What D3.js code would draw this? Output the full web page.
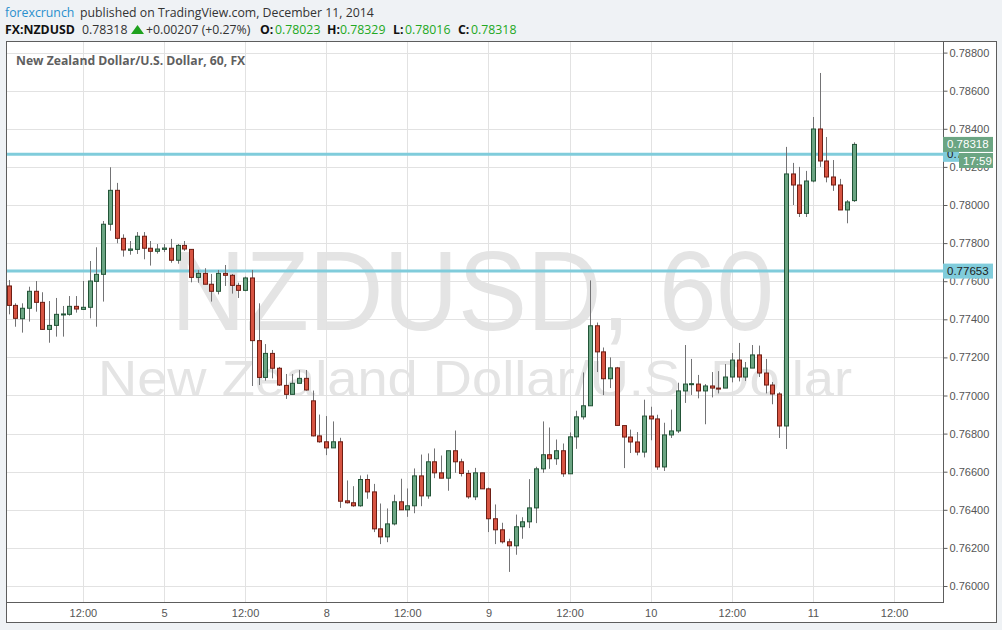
<!DOCTYPE html>
<html>
<head>
<meta charset="utf-8">
<script src="https://cdn.jsdelivr.net/npm/d3@7"></script>
<style>
  html, body { margin: 0; padding: 0; background: #eff2f5; }
  svg { display: block; }
</style>
</head>
<body>
<svg id="chart" width="1002" height="630"></svg>
<script>
// ---- data (hourly candles, NZDUSD 60) ----
const opens = [0.77575,0.77473,0.77403,0.77458,0.77547,0.77489,0.77347,0.77368,0.77426,0.77426,0.77468,0.77452,0.77463,0.77599,0.77636,0.77899,0.78077,0.77825,0.77762,0.77767,0.77836,0.77773,0.77757,0.77767,0.77773,0.77710,0.77788,0.77767,0.77620,0.77641,0.77584,0.77547,0.77641,0.77631,0.77578,0.77552,0.77617,0.77288,0.77095,0.77221,0.77143,0.77053,0.77006,0.77064,0.77090,0.76972,0.76788,0.76757,0.76725,0.76757,0.76447,0.76437,0.76421,0.76559,0.76494,0.76300,0.76258,0.76326,0.76442,0.76400,0.76421,0.76578,0.76473,0.76652,0.76594,0.76566,0.76710,0.76652,0.76591,0.76468,0.76594,0.76510,0.76353,0.76295,0.76232,0.76211,0.76311,0.76337,0.76410,0.76615,0.76689,0.76668,0.76710,0.76589,0.76783,0.76888,0.76946,0.77366,0.77229,0.77088,0.77145,0.76842,0.76782,0.76756,0.76703,0.76892,0.76877,0.76625,0.76793,0.76814,0.77024,0.77060,0.77060,0.77024,0.77050,0.77039,0.77039,0.77097,0.77186,0.77097,0.77144,0.77213,0.77118,0.77055,0.77008,0.76840,0.78163,0.78105,0.77956,0.78126,0.78399,0.78231,0.78147,0.78105,0.77974,0.78023];
const highs = [0.77606,0.77484,0.77484,0.77571,0.77601,0.77542,0.77496,0.77512,0.77470,0.77522,0.77522,0.77601,0.77706,0.77778,0.77916,0.78198,0.78116,0.77846,0.77811,0.77858,0.77858,0.77811,0.77795,0.77795,0.77822,0.77795,0.77811,0.77767,0.77659,0.77668,0.77638,0.77659,0.77685,0.77638,0.77592,0.77624,0.77659,0.77484,0.77270,0.77239,0.77150,0.77113,0.77113,0.77134,0.77134,0.77026,0.76900,0.76892,0.76864,0.76778,0.76554,0.76524,0.76580,0.76585,0.76536,0.76433,0.76407,0.76479,0.76563,0.76512,0.76617,0.76690,0.76696,0.76722,0.76685,0.76710,0.76816,0.76668,0.76608,0.76620,0.76594,0.76517,0.76428,0.76332,0.76248,0.76375,0.76361,0.76561,0.76626,0.76864,0.76832,0.76769,0.76748,0.76806,0.76920,0.77121,0.77604,0.77383,0.77252,0.77200,0.77150,0.76842,0.76821,0.76808,0.76978,0.76941,0.76899,0.76857,0.76926,0.77067,0.77265,0.77192,0.77108,0.77060,0.77123,0.77128,0.77165,0.77223,0.77276,0.77176,0.77265,0.77262,0.77192,0.77071,0.77017,0.78305,0.78221,0.78200,0.78179,0.78462,0.78693,0.78357,0.78236,0.78137,0.78026,0.78329];
const lows = [0.77426,0.77361,0.77330,0.77388,0.77440,0.77344,0.77277,0.77309,0.77309,0.77419,0.77435,0.77449,0.77405,0.77361,0.77493,0.77865,0.77799,0.77729,0.77739,0.77743,0.77715,0.77682,0.77745,0.77753,0.77697,0.77692,0.77759,0.77594,0.77592,0.77584,0.77493,0.77531,0.77575,0.77535,0.77512,0.77547,0.77050,0.77055,0.77078,0.77090,0.77050,0.76982,0.77006,0.77064,0.77025,0.76785,0.76752,0.76687,0.76725,0.76410,0.76433,0.76416,0.76416,0.76458,0.76283,0.76220,0.76230,0.76318,0.76400,0.76363,0.76382,0.76419,0.76458,0.76566,0.76566,0.76500,0.76594,0.76575,0.76458,0.76451,0.76510,0.76283,0.76220,0.76223,0.76074,0.76164,0.76248,0.76304,0.76330,0.76594,0.76615,0.76636,0.76573,0.76589,0.76720,0.76874,0.76946,0.77123,0.77002,0.77039,0.76842,0.76619,0.76698,0.76686,0.76675,0.76765,0.76610,0.76604,0.76777,0.76803,0.76961,0.77003,0.76985,0.76849,0.76990,0.77011,0.77039,0.77069,0.77074,0.77076,0.77144,0.77097,0.77011,0.76954,0.76777,0.76719,0.78000,0.77937,0.77937,0.78119,0.78200,0.78119,0.78074,0.77974,0.77904,0.78016];
const closes = [0.77473,0.77405,0.77458,0.77547,0.77489,0.77347,0.77368,0.77426,0.77428,0.77468,0.77454,0.77463,0.77601,0.77636,0.77899,0.78077,0.77825,0.77764,0.77769,0.77836,0.77773,0.77757,0.77769,0.77774,0.77710,0.77788,0.77769,0.77620,0.77641,0.77584,0.77547,0.77641,0.77631,0.77578,0.77552,0.77617,0.77288,0.77095,0.77221,0.77143,0.77055,0.77006,0.77064,0.77090,0.77029,0.76788,0.76757,0.76725,0.76757,0.76445,0.76437,0.76421,0.76559,0.76494,0.76300,0.76258,0.76326,0.76442,0.76400,0.76421,0.76578,0.76473,0.76652,0.76594,0.76566,0.76710,0.76652,0.76591,0.76468,0.76594,0.76510,0.76353,0.76295,0.76232,0.76211,0.76311,0.76337,0.76410,0.76615,0.76689,0.76668,0.76710,0.76589,0.76783,0.76888,0.76946,0.77366,0.77229,0.77088,0.77145,0.76843,0.76782,0.76756,0.76703,0.76892,0.76877,0.76625,0.76793,0.76814,0.77024,0.77060,0.77062,0.77024,0.77050,0.77039,0.77037,0.77097,0.77186,0.77097,0.77144,0.77213,0.77118,0.77055,0.77008,0.76840,0.78163,0.78105,0.77956,0.78126,0.78399,0.78231,0.78147,0.78105,0.77974,0.78016,0.78318];

// time-axis labels: candle index at which each label sits
const xLabelIndex = [11, 23, 35, 47, 59, 71, 83, 95, 107, 119, 131];
const xLabels = ["12:00", "5", "12:00", "8", "12:00", "9", "12:00", "10", "12:00", "11", "12:00"];
const yTicks = [0.760,0.762,0.764,0.766,0.768,0.770,0.772,0.774,0.776,0.778,0.780,0.782,0.784,0.786,0.788];
const hLines = [0.78266, 0.77653];
const lastPrice = 0.78318;

// ---- layout ----
const svg = d3.select("#chart");
const plot = {left: 7, right: 943, top: 42, bottom: 602};
const x = d3.scaleLinear().domain([0, opens.length - 1]).range([8.5, 853.5]);
const y = d3.scaleLinear().domain([0.760, 0.788]).range([586, 52.6]);

const up = "#6ba583", upB = "#225437", dn = "#d75442", dnB = "#6f1e14", wick = "#737375";

// background / frame
svg.append("rect").attr("width", 1002).attr("height", 630).attr("fill", "#eff2f5");
svg.append("rect").attr("x", 6.5).attr("y", 41.5).attr("width", 990).attr("height", 581)
  .attr("fill", "#fff").attr("stroke", "#5d5d5d").attr("stroke-width", 1);

// header
const hdr = svg.append("g").attr("font-family", "'Open Sans', 'Noto Sans', sans-serif");
const l1 = hdr.append("text").attr("x", 5).attr("y", 17).attr("font-size", 12.3);
l1.append("tspan").attr("fill", "#2a8fcd").text("forexcrunch");
l1.append("tspan").attr("x", 80).attr("fill", "#333").text("published on TradingView.com, December 11, 2014");

const l2 = hdr.append("g").attr("font-size", 12.3);
function t(xp, txt, fill, bold) {
  l2.append("text").attr("x", xp).attr("y", 34).attr("fill", fill)
    .attr("font-weight", bold ? "bold" : "normal").text(txt);
}
t(5, "FX:NZDUSD", "#111", true);
t(82, "0.78318", "#333", false);
l2.append("path").attr("d", "M131,34 L144,34 L137.5,25 Z").attr("fill", "#1ea11e");
t(146, "+0.00207 (+0.27%)", "#333", false);
t(260, "O:", "#111", true); t(275, "0.78023", "#22a822", false);
t(327, "H:", "#111", true); t(340, "0.78329", "#22a822", false);
t(393, "L:", "#111", true); t(405, "0.78016", "#22a822", false);
t(458, "C:", "#111", true); t(471, "0.78318", "#22a822", false);

// clip for plot
svg.append("clipPath").attr("id", "pc").append("rect")
  .attr("x", plot.left).attr("y", plot.top)
  .attr("width", plot.right - plot.left).attr("height", plot.bottom - plot.top);
const g = svg.append("g").attr("clip-path", "url(#pc)");

// watermark
g.append("text").attr("x", 171).attr("y", 330)
  .attr("font-family", "'Liberation Sans', Arial, sans-serif").attr("font-size", 113)
  .attr("textLength", 603).attr("lengthAdjust", "spacingAndGlyphs")
  .attr("fill", "#e4e4e4").text("NZDUSD, 60");
g.append("text").attr("x", 98).attr("y", 396)
  .attr("font-family", "'Liberation Sans', Arial, sans-serif").attr("font-size", 50)
  .attr("textLength", 754).attr("lengthAdjust", "spacingAndGlyphs")
  .attr("fill", "#e4e4e4").text("New Zealand Dollar/U.S. Dollar");

// grid
g.selectAll("line.hg").data(yTicks).enter().append("line")
  .attr("x1", plot.left).attr("x2", plot.right)
  .attr("y1", d => Math.round(y(d)) + 0.5).attr("y2", d => Math.round(y(d)) + 0.5)
  .attr("stroke", "#e2e2e2");
g.selectAll("line.vg").data(xLabelIndex).enter().append("line")
  .attr("y1", plot.top).attr("y2", plot.bottom)
  .attr("x1", d => Math.round(x(d)) + 0.5).attr("x2", d => Math.round(x(d)) + 0.5)
  .attr("stroke", "#e2e2e2");

// title
svg.append("text").attr("x", 16).attr("y", 65).attr("font-family", "'Open Sans', 'Noto Sans', sans-serif")
  .attr("font-size", 12.2).attr("font-weight", "bold").attr("fill", "#5f5f5f")
  .text("New Zealand Dollar/U.S. Dollar, 60, FX");

// horizontal lines
g.selectAll("line.hl").data(hLines).enter().append("line")
  .attr("x1", plot.left).attr("x2", plot.right)
  .attr("y1", d => y(d)).attr("y2", d => y(d))
  .attr("stroke", "#80ccdb").attr("stroke-width", 3);

// candles
const idx = d3.range(opens.length);
const cg = g.append("g");
cg.selectAll("line.w").data(idx).enter().append("line")
  .attr("x1", i => Math.round(x(i)) + 0.5).attr("x2", i => Math.round(x(i)) + 0.5)
  .attr("y1", i => y(highs[i])).attr("y2", i => y(lows[i]))
  .attr("stroke", wick).attr("stroke-width", 1);
cg.selectAll("rect.b").data(idx).enter().append("rect")
  .attr("x", i => Math.round(x(i)) - 1.5)
  .attr("width", 4)
  .attr("y", i => y(Math.max(opens[i], closes[i])))
  .attr("height", i => Math.max(1, Math.abs(y(opens[i]) - y(closes[i]))))
  .attr("fill", i => closes[i] >= opens[i] ? up : dn)
  .attr("stroke", i => closes[i] >= opens[i] ? upB : dnB)
  .attr("stroke-width", 1);

// axes lines
svg.append("line").attr("x1", 943.5).attr("x2", 943.5).attr("y1", plot.top).attr("y2", plot.bottom + 1)
  .attr("stroke", "#5d5d5d");
svg.append("line").attr("x1", plot.left).attr("x2", 943.5).attr("y1", 602.5).attr("y2", 602.5)
  .attr("stroke", "#5d5d5d");

// y axis
const yAxis = svg.append("g").attr("transform", "translate(943.5,0)")
  .call(d3.axisRight(y).tickValues(yTicks).tickSize(4).tickPadding(2).tickFormat(d3.format(".5f")));
yAxis.select(".domain").remove();
yAxis.selectAll("line").attr("stroke", "#5d5d5d");
yAxis.selectAll("text").attr("fill", "#555").attr("font-size", 11)
  .attr("font-family", "'Liberation Sans', Arial, sans-serif");

// x axis labels
const xa = svg.append("g").attr("font-family", "'Liberation Sans', Arial, sans-serif").attr("font-size", 11);
xa.selectAll("text").data(xLabelIndex).enter().append("text")
  .attr("x", d => x(d) + 0.5).attr("y", 617).attr("text-anchor", "middle").attr("fill", "#555")
  .text((d, i) => xLabels[i]);

// axis tags for horizontal lines and last price
svg.append("clipPath").attr("id", "tagclip").append("rect")
  .attr("x", 943).attr("y", 140).attr("width", 16).attr("height", 30);
function axisTag(v, fill, color, txt, clip) {
  const yy = y(v);
  const tg = svg.append("g");
  if (clip) tg.attr("clip-path", "url(#tagclip)");
  tg.append("rect").attr("x", 943).attr("y", yy - 7.5).attr("width", 50).attr("height", 15).attr("fill", fill);
  tg.append("text").attr("x", 947).attr("y", yy + 4).attr("font-size", 11.5)
    .attr("font-family", "'Liberation Sans', Arial, sans-serif").attr("fill", color).text(txt);
}
axisTag(hLines[1], "#80ccdb", "#222", d3.format(".5f")(hLines[1]), false);
axisTag(hLines[0], "#80ccdb", "#222", d3.format(".5f")(hLines[0]), true);
axisTag(lastPrice, "#6ba583", "#fff", d3.format(".5f")(lastPrice), false);
// countdown tag
svg.append("rect").attr("x", 959).attr("y", 153).attr("width", 34).attr("height", 15).attr("fill", "#6ba583");
svg.append("text").attr("x", 963).attr("y", 165).attr("font-size", 11.5)
  .attr("font-family", "'Liberation Sans', Arial, sans-serif").attr("fill", "#fff").text("17:59");
</script>
</body>
</html>
